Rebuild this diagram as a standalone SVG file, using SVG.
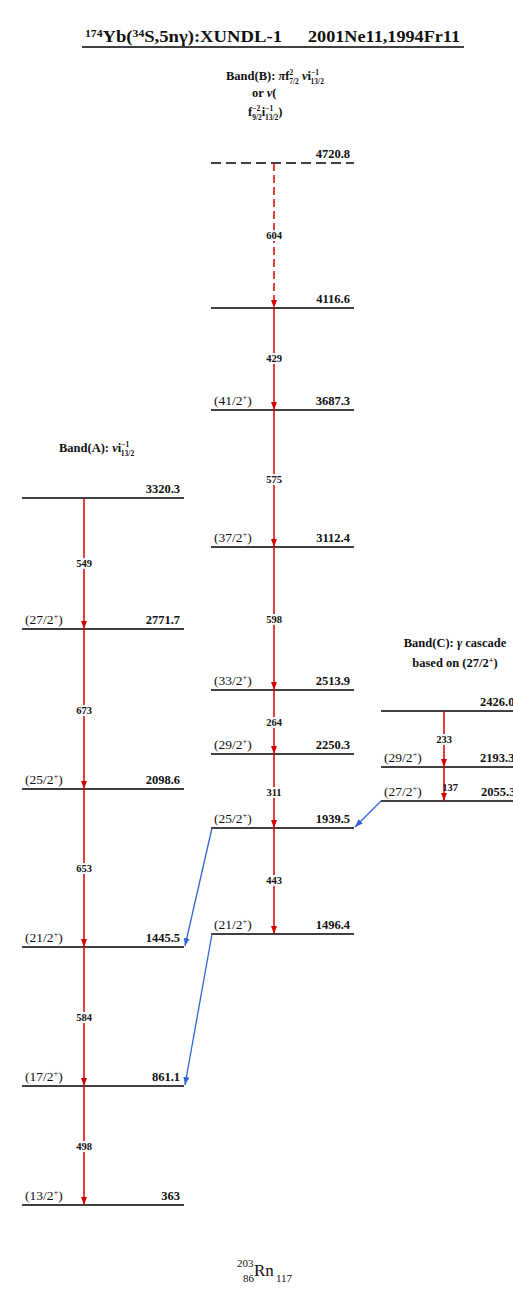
<svg xmlns="http://www.w3.org/2000/svg" width="513" height="1289" viewBox="0 0 513 1289">
<style>
text{font-family:"Liberation Serif","Times New Roman",serif;fill:#111}
.ttl{font-size:16px;font-weight:bold}
.hdr{font-size:12.5px;font-weight:bold}
.lvl{stroke:#000;stroke-width:1.5;fill:none}
.dash{stroke-dasharray:10,5}
.val{font-size:12.5px;font-weight:bold;text-anchor:end}
.spin{font-size:13.5px}
.g{stroke:#d40000;stroke-width:1.5;fill:none}
.gd{stroke-dasharray:8,4}
.glab{font-size:10.5px;font-weight:bold;text-anchor:middle;paint-order:stroke;stroke:#fff;stroke-width:4px;stroke-linejoin:round}
.blue{stroke:#2f64d6;stroke-width:1.3;fill:none}
.sm{font-size:8.5px}
.xs{font-size:7.5px}
</style>
<defs>
<marker id="ar" viewBox="0 0 8 6" markerWidth="8" markerHeight="6" refX="8" refY="3" orient="auto" markerUnits="userSpaceOnUse">
<path d="M0,0 L8,3 L0,6 z" fill="#d40000"/>
</marker>
<marker id="ab" viewBox="0 0 8 6" markerWidth="8" markerHeight="6" refX="8" refY="3" orient="auto" markerUnits="userSpaceOnUse">
<path d="M0,0 L8,3 L0,6 z" fill="#2f64d6"/>
</marker>
</defs>

<g id="title">
<text class="ttl" x="85" y="42" textLength="197" lengthAdjust="spacingAndGlyphs"><tspan font-size="10" dy="-5">174</tspan><tspan dy="5">Yb(</tspan><tspan font-size="10" dy="-5">34</tspan><tspan dy="5">S,5nγ):XUNDL-1</tspan></text>
<text class="ttl" x="308" y="42" textLength="152" lengthAdjust="spacingAndGlyphs">2001Ne11,1994Fr11</text>
<line x1="82" y1="47" x2="464" y2="47" stroke="#000" stroke-width="1.5"/>
</g>

<g id="bandB-header">
<text class="hdr" x="226" y="80">Band(B): <tspan font-style="italic">π</tspan>f<tspan class="xs" dy="-5">2</tspan><tspan class="xs" dx="-4" dy="9">7/2</tspan><tspan dy="-4"> </tspan><tspan font-style="italic">ν</tspan>i<tspan class="xs" dy="-5">−1</tspan><tspan class="xs" dx="-8" dy="9">13/2</tspan></text>
<text class="hdr" x="252" y="97">or <tspan font-style="italic">ν</tspan>(</text>
<text class="hdr" x="248" y="116">f<tspan class="xs" dy="-5">−2</tspan><tspan class="xs" dx="-8" dy="9">9/2</tspan><tspan dy="-4">i</tspan><tspan class="xs" dy="-5">−1</tspan><tspan class="xs" dx="-8" dy="9">13/2</tspan><tspan dy="-4">)</tspan></text>
</g>

<g id="bandA-header">
<text class="hdr" x="59" y="452">Band(A): <tspan font-style="italic">ν</tspan>i<tspan class="xs" dy="-5">−1</tspan><tspan class="xs" dx="-8" dy="9">13/2</tspan></text>
</g>

<g id="bandC-header">
<text class="hdr" x="455" y="647" text-anchor="middle">Band(C): <tspan font-style="italic">γ</tspan> cascade</text>
<text class="hdr" x="455" y="667" text-anchor="middle">based on (27/2<tspan class="sm" dy="-4">+</tspan><tspan dy="4">)</tspan></text>
</g>

<!-- Band B levels -->
<g id="lvl-4720.8"><line class="lvl dash" x1="211" y1="163" x2="354" y2="163"/><text class="val" x="350" y="158">4720.8</text></g>
<g id="lvl-4116.6"><line class="lvl" x1="211" y1="308" x2="354" y2="308"/><text class="val" x="350" y="303">4116.6</text></g>
<g id="lvl-3687.3"><line class="lvl" x1="211" y1="410" x2="354" y2="410"/><text class="spin" x="214" y="405">(41/2<tspan class="sm" dy="-5">+</tspan><tspan dy="5">)</tspan></text><text class="val" x="350" y="405">3687.3</text></g>
<g id="lvl-3112.4"><line class="lvl" x1="211" y1="547" x2="354" y2="547"/><text class="spin" x="214" y="542">(37/2<tspan class="sm" dy="-5">+</tspan><tspan dy="5">)</tspan></text><text class="val" x="350" y="542">3112.4</text></g>
<g id="lvl-2513.9"><line class="lvl" x1="211" y1="690" x2="354" y2="690"/><text class="spin" x="214" y="685">(33/2<tspan class="sm" dy="-5">+</tspan><tspan dy="5">)</tspan></text><text class="val" x="350" y="685">2513.9</text></g>
<g id="lvl-2250.3"><line class="lvl" x1="211" y1="754" x2="354" y2="754"/><text class="spin" x="214" y="749">(29/2<tspan class="sm" dy="-5">+</tspan><tspan dy="5">)</tspan></text><text class="val" x="350" y="749">2250.3</text></g>
<g id="lvl-1939.5"><line class="lvl" x1="211" y1="828" x2="354" y2="828"/><text class="spin" x="214" y="823">(25/2<tspan class="sm" dy="-5">+</tspan><tspan dy="5">)</tspan></text><text class="val" x="350" y="823">1939.5</text></g>
<g id="lvl-1496.4"><line class="lvl" x1="211" y1="934" x2="354" y2="934"/><text class="spin" x="214" y="929">(21/2<tspan class="sm" dy="-5">+</tspan><tspan dy="5">)</tspan></text><text class="val" x="350" y="929">1496.4</text></g>

<!-- Band A levels -->
<g id="lvl-3320.3"><line class="lvl" x1="22" y1="498" x2="184" y2="498"/><text class="val" x="180" y="493">3320.3</text></g>
<g id="lvl-2771.7"><line class="lvl" x1="22" y1="629" x2="184" y2="629"/><text class="spin" x="25" y="624">(27/2<tspan class="sm" dy="-5">+</tspan><tspan dy="5">)</tspan></text><text class="val" x="180" y="624">2771.7</text></g>
<g id="lvl-2098.6"><line class="lvl" x1="22" y1="789" x2="184" y2="789"/><text class="spin" x="25" y="784">(25/2<tspan class="sm" dy="-5">+</tspan><tspan dy="5">)</tspan></text><text class="val" x="180" y="784">2098.6</text></g>
<g id="lvl-1445.5"><line class="lvl" x1="22" y1="947" x2="184" y2="947"/><text class="spin" x="25" y="942">(21/2<tspan class="sm" dy="-5">+</tspan><tspan dy="5">)</tspan></text><text class="val" x="180" y="942">1445.5</text></g>
<g id="lvl-861.1"><line class="lvl" x1="22" y1="1086" x2="184" y2="1086"/><text class="spin" x="25" y="1081">(17/2<tspan class="sm" dy="-5">+</tspan><tspan dy="5">)</tspan></text><text class="val" x="180" y="1081">861.1</text></g>
<g id="lvl-363"><line class="lvl" x1="22" y1="1205" x2="184" y2="1205"/><text class="spin" x="25" y="1200">(13/2<tspan class="sm" dy="-5">+</tspan><tspan dy="5">)</tspan></text><text class="val" x="180" y="1200">363</text></g>

<!-- Band C levels -->
<g id="lvl-2426"><line class="lvl" x1="381" y1="711" x2="513" y2="711"/><text class="val" x="480" y="706" style="text-anchor:start">2426.0</text></g>
<g id="lvl-2193"><line class="lvl" x1="381" y1="767" x2="513" y2="767"/><text class="spin" x="384" y="762">(29/2<tspan class="sm" dy="-5">+</tspan><tspan dy="5">)</tspan></text><text class="val" x="480" y="762" style="text-anchor:start">2193.3</text></g>
<g id="lvl-2055"><line class="lvl" x1="381" y1="801" x2="513" y2="801"/><text class="spin" x="384" y="796">(27/2<tspan class="sm" dy="-5">+</tspan><tspan dy="5">)</tspan></text><text class="val" x="481" y="796" style="text-anchor:start">2055.3</text></g>

<g id="connectors">
<line class="g gd" x1="274" y1="163" x2="274" y2="308" marker-end="url(#ar)"/>
<line class="g" x1="274" y1="308" x2="274" y2="410" marker-end="url(#ar)"/>
<line class="g" x1="274" y1="410" x2="274" y2="547" marker-end="url(#ar)"/>
<line class="g" x1="274" y1="547" x2="274" y2="690" marker-end="url(#ar)"/>
<line class="g" x1="274" y1="690" x2="274" y2="754" marker-end="url(#ar)"/>
<line class="g" x1="274" y1="754" x2="274" y2="828" marker-end="url(#ar)"/>
<line class="g" x1="274" y1="828" x2="274" y2="934" marker-end="url(#ar)"/>
<line class="g" x1="84" y1="498" x2="84" y2="629" marker-end="url(#ar)"/>
<line class="g" x1="84" y1="629" x2="84" y2="789" marker-end="url(#ar)"/>
<line class="g" x1="84" y1="789" x2="84" y2="947" marker-end="url(#ar)"/>
<line class="g" x1="84" y1="947" x2="84" y2="1086" marker-end="url(#ar)"/>
<line class="g" x1="84" y1="1086" x2="84" y2="1205" marker-end="url(#ar)"/>
<line class="g" x1="444" y1="711" x2="444" y2="767" marker-end="url(#ar)"/>
<line class="g" x1="444" y1="767" x2="444" y2="801" marker-end="url(#ar)"/>
<line class="blue" x1="212" y1="828" x2="185" y2="946" marker-end="url(#ab)"/>
<line class="blue" x1="212" y1="934" x2="185" y2="1085" marker-end="url(#ab)"/>
<line class="blue" x1="381" y1="801" x2="355" y2="827" marker-end="url(#ab)"/>
<text class="glab" x="274" y="239">604</text>
<text class="glab" x="274" y="362">429</text>
<text class="glab" x="274" y="483">575</text>
<text class="glab" x="274" y="623">598</text>
<text class="glab" x="274" y="726">264</text>
<text class="glab" x="274" y="796">311</text>
<text class="glab" x="274" y="884">443</text>
<text class="glab" x="84" y="567">549</text>
<text class="glab" x="84" y="714">673</text>
<text class="glab" x="84" y="872">653</text>
<text class="glab" x="84" y="1021">584</text>
<text class="glab" x="84" y="1150">498</text>
<text class="glab" x="444" y="743">233</text>
<text class="glab" x="450" y="791" style="stroke:none">137</text>
</g>

<g id="nucleus">
<text x="237" y="1267" font-size="11">203</text>
<text x="243" y="1282" font-size="11">86</text>
<text x="254" y="1276" font-size="17">Rn</text>
<text x="276" y="1282" font-size="11">117</text>
</g>
</svg>
